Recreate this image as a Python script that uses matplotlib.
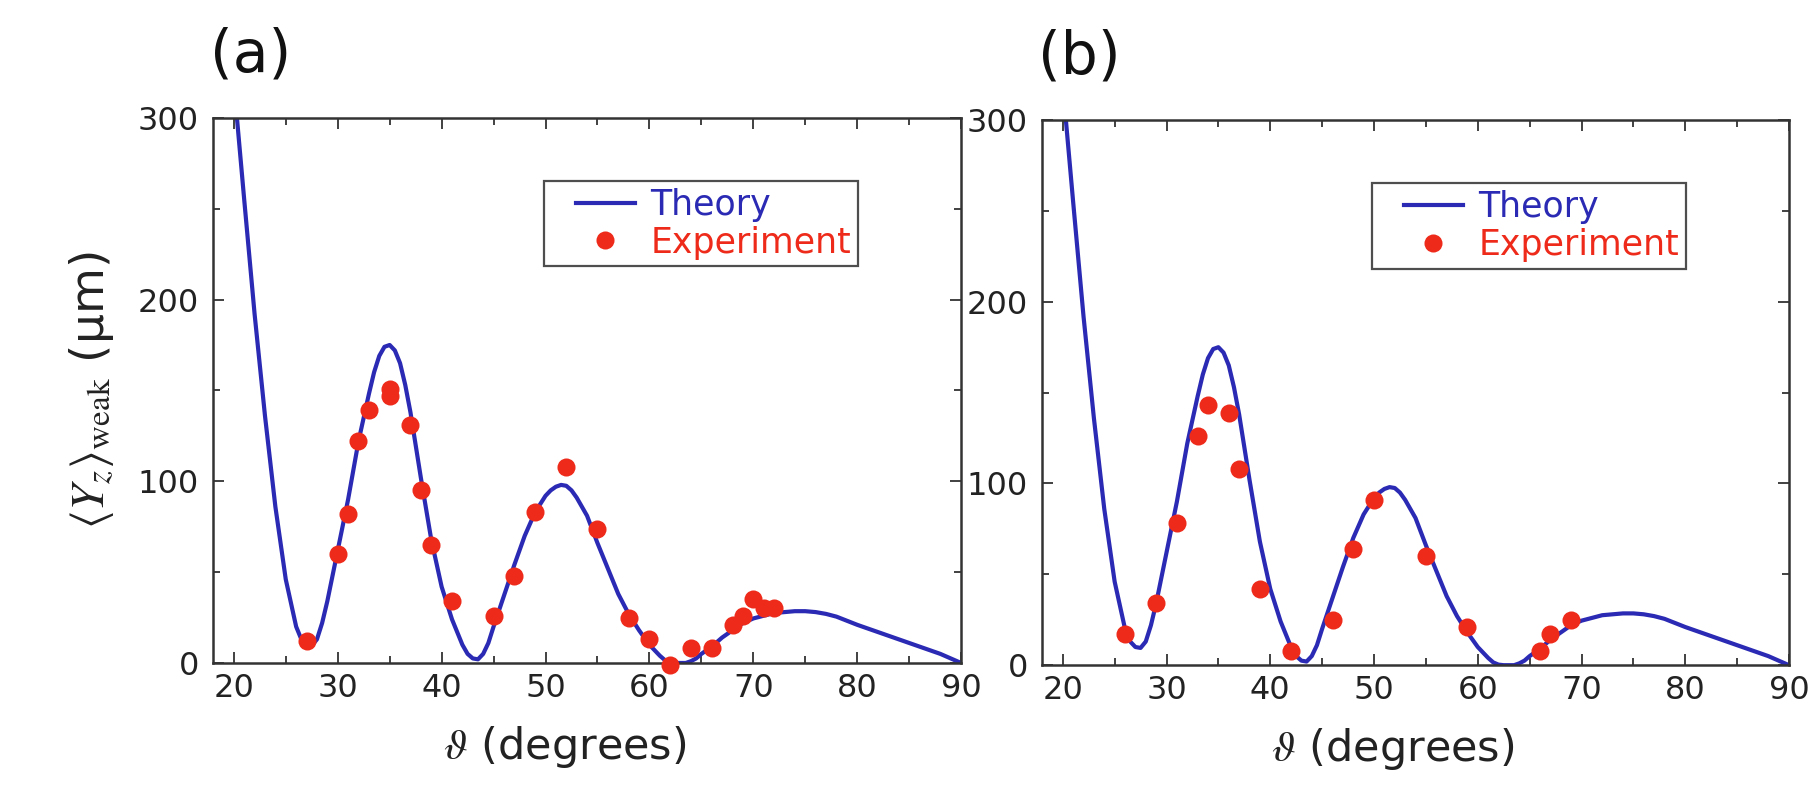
import matplotlib
matplotlib.use('Agg')
import matplotlib.pyplot as plt
from matplotlib.ticker import MultipleLocator
from matplotlib.legend_handler import HandlerLine2D

plt.rcParams['font.family'] = ['DejaVu Sans']
plt.rcParams['mathtext.fontset'] = 'stix'

# Theory curve (same in both panels)
theory_deg = [20.3, 21, 22, 23, 24, 25, 26, 26.5, 27, 27.5, 28, 28.5, 29, 30, 31, 32, 33,
              33.5, 34, 34.5, 35, 35.5, 36, 36.5, 37, 38, 39, 40, 41, 42, 42.5, 43, 43.5,
              44, 44.5, 45, 46, 47, 48, 49, 50, 50.5, 51, 51.5, 52, 52.5, 53, 54, 55, 56,
              57, 58, 59, 60, 61, 61.5, 62, 62.5, 63, 63.5, 64, 64.5, 65, 66, 67, 68, 69,
              70, 71, 72, 73, 74, 75, 76, 77, 78, 80, 82, 84, 86, 88, 90]
theory_um = [300, 255, 192, 136, 86, 46, 20, 13, 10, 9.5, 13, 22, 34, 62, 90, 122, 148,
             160, 169, 174, 175, 172, 165, 153, 138, 102, 68, 42, 24, 10, 5, 2.5, 2,
             5, 11, 20, 37, 54, 70, 83, 92, 95, 97, 98, 97.5, 95, 91, 81, 66, 52,
             38, 27, 18, 10, 4, 1.5, 0.3, 0, 0, 0, 1, 2.5, 5, 9, 14, 18, 22,
             24.5, 26, 27.5, 28, 28.5, 28.5, 28, 27, 25.5, 21, 17, 13, 9, 5, 0]

# Experiment, panel (a)
exp_a_deg = [27, 30, 31, 32, 33, 35, 35, 37, 38, 39, 41, 45, 47, 49, 52, 55, 58, 60,
             62, 64, 66, 68, 69, 70, 71, 72]
exp_a_um = [12, 60, 82, 122, 139, 151, 147, 131, 95, 65, 34, 26, 48, 83, 108, 74, 25, 13,
            -1, 8, 8, 21, 26, 35, 30, 30]

# Experiment, panel (b)
exp_b_deg = [26, 29, 31, 33, 34, 36, 37, 39, 42, 46, 48, 50, 55, 59, 66, 67, 69]
exp_b_um = [17, 34, 78, 126, 143, 139, 108, 42, 8, 25, 64, 91, 60, 21, 8, 17, 25]

blue = '#2a2ab4'
red = '#ee2a1a'


# legend handle drawn in the right part of its slot (extra room on the left of the box)
class ShiftedLine(HandlerLine2D):
    def create_artists(self, legend, orig_handle, xdescent, ydescent, width, height,
                       fontsize, trans):
        off = 0.3 * width
        return super().create_artists(legend, orig_handle, xdescent - off, ydescent,
                                      width - off, height, fontsize, trans)


fig = plt.figure(figsize=(18.1, 7.9), dpi=100)
ax_a = fig.add_axes([0.1177, 0.1608, 0.4133, 0.690])
ax_b = fig.add_axes([0.5757, 0.1580, 0.4127, 0.690])

for ax, xs, ys, tag in [(ax_a, exp_a_deg, exp_a_um, '(a)'), (ax_b, exp_b_deg, exp_b_um, '(b)')]:
    ln, = ax.plot(theory_deg, theory_um, color=blue, lw=3, label='Theory', zorder=2)
    pts, = ax.plot(xs, ys, 'o', color=red, ms=13, mec='none', label='Experiment',
                   clip_on=False, zorder=3)
    ax.set_xlim(18, 90)
    ax.set_ylim(0, 300)
    ax.xaxis.set_major_locator(MultipleLocator(10))
    ax.xaxis.set_minor_locator(MultipleLocator(5))
    ax.yaxis.set_major_locator(MultipleLocator(100))
    ax.yaxis.set_minor_locator(MultipleLocator(50))
    ax.tick_params(which='both', direction='in', top=True, right=True,
                   width=1.3, colors='#333333', labelcolor='#222222')
    ax.tick_params(which='major', length=8, labelsize=23)
    ax.tick_params(axis='x', which='major', pad=7)
    ax.tick_params(axis='y', which='major', pad=10)
    ax.tick_params(which='minor', length=5)
    for s in ax.spines.values():
        s.set_linewidth(1.8)
        s.set_color('#333333')
    ax.set_xlabel(r'$\vartheta$ (degrees)', fontsize=31, color='#222222')
    ax.xaxis.set_label_coords(0.47, -0.112)
    leg = ax.legend(handles=[ln, pts], loc='upper right', bbox_to_anchor=(0.862, 0.884),
                    fontsize=25, frameon=True, fancybox=False, handlelength=2.4,
                    handletextpad=0.45, borderpad=0.2, labelspacing=0.1,
                    borderaxespad=0, handler_map={ln: ShiftedLine(), pts: ShiftedLine()})
    leg.get_frame().set_edgecolor('#222222')
    leg.get_frame().set_linewidth(1.6)
    for txt, c in zip(leg.get_texts(), [blue, red]):
        txt.set_color(c)
    ax.text(0.05, 1.115, tag, transform=ax.transAxes, fontsize=42, ha='center',
            va='center', color='#111111')

ax_a.set_ylabel(r'$\left\langle Y_{z}\right\rangle_{\mathrm{weak}}$ (μm)', fontsize=34,
                color='#222222', labelpad=16)

fig.savefig('out.png', dpi=100)
